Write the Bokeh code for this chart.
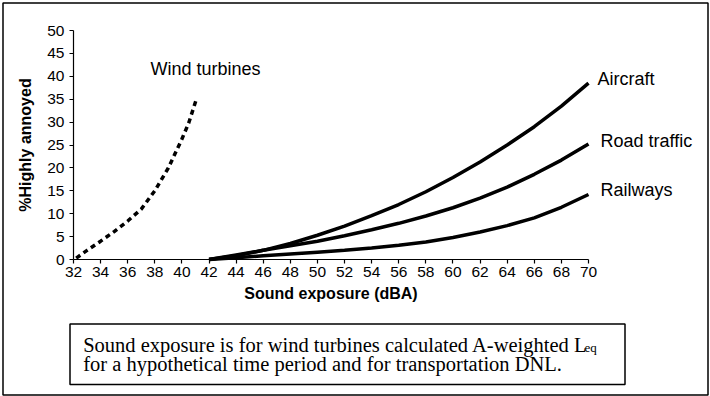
from bokeh.plotting import figure
from bokeh.models import Range1d, FixedTicker, Label, BoxAnnotation
from bokeh.embed import file_html
from bokeh.resources import INLINE

# ---- data ----
wind_x = [32.2, 33.0, 34.0, 35.0, 36.0, 37.0, 38.0, 39.0, 40.0, 40.5, 41.1]
wind_y = [0.3, 2.0, 4.0, 6.1, 8.4, 11.0, 15.0, 20.0, 26.3, 29.8, 35.3]

trans_x = [42, 44, 46, 48, 50, 52, 54, 56, 58, 60, 62, 64, 66, 68, 70]
aircraft_y = [0, 0.8, 2.0, 3.5, 5.3, 7.3, 9.6, 12.0, 14.8, 17.9, 21.3, 25.0, 29.0, 33.5, 38.5]
road_y = [0, 1.0, 2.0, 3.0, 4.0, 5.2, 6.5, 7.9, 9.5, 11.3, 13.4, 15.8, 18.6, 21.7, 25.2]
rail_y = [0, 0.4, 0.8, 1.2, 1.6, 2.0, 2.5, 3.1, 3.8, 4.8, 6.0, 7.4, 9.1, 11.4, 14.2]

x_ticks = list(range(32, 71, 2))
y_ticks = list(range(0, 51, 5))

# ---- layout: the frame covers the whole canvas, axes sit at fixed locations ----
W, H = 710, 396
PX_X0, PX_X1 = 73.0, 588.0   # screen x of 32 and 70
PX_Y0, PX_Y1 = 259.0, 30.0   # screen y of 0 and 50
sx = (PX_X1 - PX_X0) / (70 - 32)
sy = (PX_Y0 - PX_Y1) / (50 - 0)
x_range = Range1d(32 - PX_X0 / sx, 32 + (W - PX_X0) / sx)
y_range = Range1d(-(H - PX_Y0) / sy, PX_Y0 / sy)

def dx(px):  # screen x -> data x
    return 32 + (px - PX_X0) / sx

def dy(py):  # screen y -> data y
    return (PX_Y0 - py) / sy

p = figure(width=W, height=H, output_backend="svg", toolbar_location=None,
           x_range=x_range, y_range=y_range, min_border=0)
p.outline_line_color = None
p.grid.visible = False
p.background_fill_color = "white"
p.border_fill_color = "white"

for ax in (p.xaxis[0], p.yaxis[0]):
    ax.axis_line_color = "black"
    ax.axis_line_width = 1.2
    ax.major_tick_line_color = "black"
    ax.major_tick_line_width = 1.2
    ax.minor_tick_line_color = None
    ax.major_tick_out = 4
    ax.major_tick_in = 0
    ax.major_label_text_font = "Liberation Sans"
    ax.major_label_text_font_size = "15.5px"
    ax.major_label_text_color = "black"
    ax.axis_label_text_font = "Liberation Sans"
    ax.axis_label_text_font_size = "16px"
    ax.axis_label_text_font_style = "bold"
    ax.axis_label_text_color = "black"

p.xaxis.ticker = FixedTicker(ticks=x_ticks)
p.yaxis.ticker = FixedTicker(ticks=y_ticks)
p.xaxis.bounds = (32, 70)
p.yaxis.bounds = (0, 50)
p.xaxis.fixed_location = 0
p.yaxis.fixed_location = 32
p.xaxis.axis_label = "Sound exposure (dBA)"
p.yaxis.axis_label = "%Highly annoyed"
p.xaxis.major_label_standoff = 3
p.yaxis.major_label_standoff = 5
p.xaxis.axis_label_standoff = 5
p.yaxis.axis_label_standoff = 10

p.line(wind_x, wind_y, line_color="black", line_width=3.5, line_dash="5 4")
p.line(trans_x, aircraft_y, line_color="black", line_width=3.5)
p.line(trans_x, road_y, line_color="black", line_width=3.5)
p.line(trans_x, rail_y, line_color="black", line_width=3.5)

def lab(px, py, t, size="18px", font="Liberation Sans", baseline="middle"):
    p.add_layout(Label(x=dx(px), y=dy(py), text=t, text_font=font, text_font_size=size,
                       text_color="black", text_baseline=baseline))

lab(150, 68.5, "Wind turbines")
lab(597, 78, "Aircraft")
lab(600, 140, "Road traffic")
lab(600, 189.5, "Railways")

# caption box
p.add_layout(BoxAnnotation(left=dx(69.5), right=dx(624.5), top=dy(323.5), bottom=dy(384),
                           fill_color=None, line_color="black", line_alpha=1.0,
                           line_width=1.5))
lab(82.7, 344.5, "Sound exposure is for wind turbines calculated A-weighted L",
    size="20.5px", font="Liberation Serif", baseline="alphabetic")
lab(82.7, 363.5, "for a hypothetical time period and for transportation DNL.",
    size="20.5px", font="Liberation Serif", baseline="alphabetic")
lab(584.0, 346.5, "eq", size="13px", font="Liberation Serif", baseline="alphabetic")

# outer frame
p.add_layout(BoxAnnotation(left=dx(2.5), right=dx(707.5), top=dy(2.5), bottom=dy(394.5),
                           fill_color=None, line_color="black", line_alpha=1.0,
                           line_width=1.5))

open("out.html", "w").write(file_html(p, INLINE))
